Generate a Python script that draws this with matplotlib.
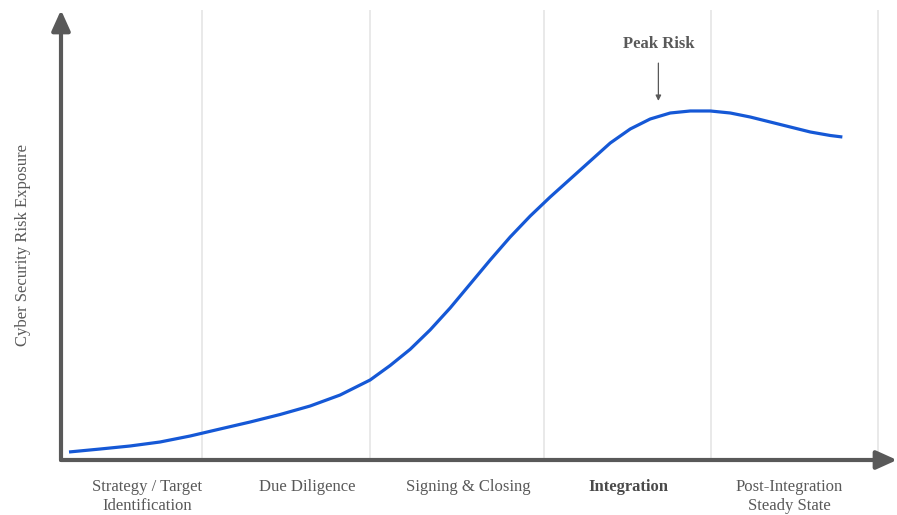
import matplotlib
matplotlib.use('Agg')
from matplotlib import pyplot as plt

plt.rcParams['font.family'] = ['Liberation Serif', 'DejaVu Serif']

# M&A timeline (0-100) against relative cyber risk exposure (0-100)
stage_labels = ['Strategy / Target\nIdentification', 'Due Diligence',
                'Signing & Closing', 'Integration',
                'Post-Integration\nSteady State']
stage_centers = [10.3, 29.5, 48.8, 68.0, 87.3]
stage_bounds = [16.9, 37.05, 57.9, 77.9, 97.96]

timeline = [0.96, 4.68, 8.27, 11.87, 15.47, 19.06, 22.66, 26.26, 29.86,
            33.45, 37.05, 39.45, 41.85, 44.24, 46.64, 49.04, 51.44, 53.84,
            56.24, 58.63, 61.03, 63.43, 65.83, 68.23, 70.62, 73.02, 75.42,
            77.82, 80.22, 82.61, 85.01, 87.41, 89.81, 92.21, 93.65]
risk = [1.78, 2.44, 3.11, 4.0, 5.33, 6.89, 8.44, 10.11, 12.0,
        14.44, 17.78, 21.0, 24.6, 28.9, 33.78, 39.11, 44.44, 49.56,
        54.22, 58.44, 62.44, 66.44, 70.44, 73.56, 75.78, 77.11, 77.56,
        77.56, 77.11, 76.22, 75.11, 74.0, 72.89, 72.11, 71.78]

peak_x = 71.6
peak_label_y = 92.5
peak_arrow = (88.2, 79.8)

grey = '#595959'

fig = plt.figure(figsize=(8.97, 5.15), dpi=100)
ax = fig.add_axes([61 / 897, 55 / 515, 836 / 897, 450 / 515])
ax.set_xlim(0, 100.2)
ax.set_ylim(0, 100)
for s in ax.spines.values():
    s.set_visible(False)

# phase separators
for b in stage_bounds:
    ax.plot([b, b], [0, 100], color='#e3e3e3', linewidth=1.1, zorder=1)

# axes drawn as arrows
axis_arrow = dict(arrowstyle='-|>,head_length=0.62,head_width=0.28',
                  color=grey, lw=3, mutation_scale=20, shrinkA=0, shrinkB=0)
ax.annotate('', xy=(100.2, 0), xytext=(0, 0), arrowprops=axis_arrow,
            annotation_clip=False, zorder=3)
ax.annotate('', xy=(0, 100), xytext=(0, 0), arrowprops=axis_arrow,
            annotation_clip=False, zorder=3)

ax.plot(timeline, risk, color='#1558d6', linewidth=2.3,
        solid_capstyle='butt', solid_joinstyle='round', zorder=4)

# peak marker
ax.annotate('', xy=(peak_x, peak_arrow[1]), xytext=(peak_x, peak_arrow[0]),
            arrowprops=dict(arrowstyle='-|>', color=grey, lw=0.9,
                            mutation_scale=8, shrinkA=0, shrinkB=0))
ax.text(peak_x, peak_label_y, 'Peak Risk', ha='center', va='center',
        fontsize=12, fontweight='bold', color=grey)

ax.set_xticks(stage_centers, stage_labels)
ax.tick_params(axis='x', length=0, pad=14, labelsize=12, labelcolor=grey)
ax.set_yticks([])
for lbl in ax.get_xticklabels():
    lbl.set_linespacing(1.25)
ax.get_xticklabels()[3].set_fontweight('bold')
ax.get_xticklabels()[3].set_color('#4a4a4a')

ax.text(-38 / 836, 0.478, 'Cyber Security Risk Exposure', transform=ax.transAxes,
        rotation=90, ha='center', va='center', fontsize=12, color=grey)

fig.savefig('out.png', dpi=100)
